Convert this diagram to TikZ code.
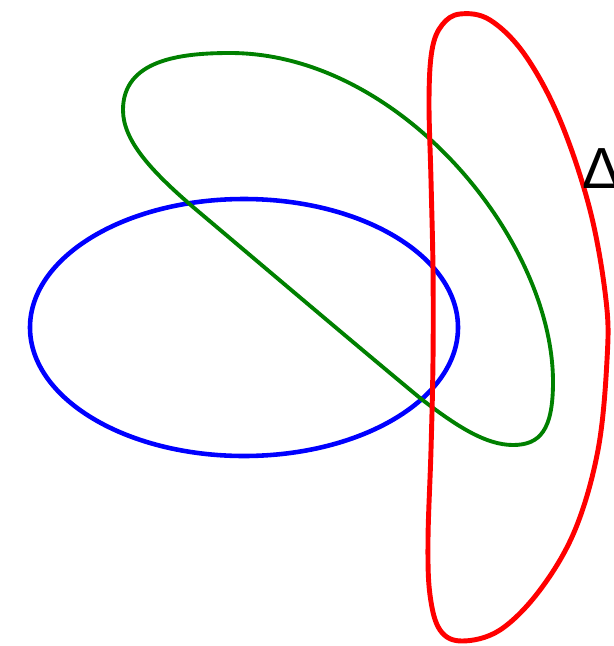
\documentclass[tikz,border=0pt]{standalone}
\usepackage{fontspec}
\newfontfamily\deltafont{Liberation Sans}

\begin{document}
\begin{tikzpicture}[x=0.02cm,y=-0.02cm,line join=round]
\useasboundingbox (0,0) rectangle (614,646);
% ---------- blue ellipse ----------
\draw[blue,line width=2.6pt] (244,327.5) ellipse [x radius=214,y radius=128.5];
% ---------- green loop ----------
\draw[green!50!black,line width=2.2pt] (230,53)
  .. controls (400,53) and (553,240) .. (553,382)
  .. controls (553,430) and (540,445) .. (513,445)
  .. controls (485,445) and (455,425) .. (420,398)
  .. controls (350,340) and (250,255) .. (193,207)
  .. controls (150,170) and (123,140) .. (123,110)
  .. controls (123,60) and (180,53) .. cycle;
% ---------- red loop ----------
\draw[red,line width=2.8pt] plot[smooth cycle,tension=0.6] coordinates {
  (460,14) (490,20) (525,55) (560,120) (590,210) (606,300) (607,360)
  (598,450) (575,530) (540,590) (500,630) (462,641) (440,630) (430,595)
  (428,540) (431,450) (433,360) (433,270) (431,180) (429,100) (432,50)
  (442,25)};
% label, clipped at the right edge
\node[anchor=base west,inner sep=0pt,font=\deltafont\fontsize{33}{33}\selectfont] (delta) at (582,188) {Δ};
\end{tikzpicture}
\end{document}
